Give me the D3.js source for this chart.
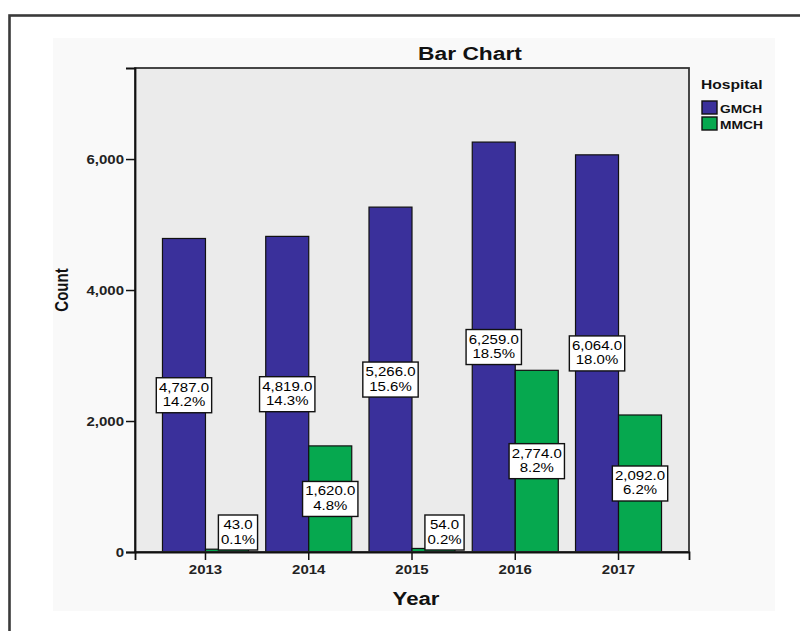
<!DOCTYPE html>
<html>
<head>
<meta charset="utf-8">
<script src="https://cdn.jsdelivr.net/npm/d3@7"></script>
<style>
  html, body { margin: 0; padding: 0; background: #ffffff; }
  svg { display: block; font-family: "Liberation Sans", Arial, sans-serif; }
</style>
</head>
<body>
<svg id="chart" width="800" height="631"></svg>
<script>
// Admissions per year for the two hospitals
const years = ["2013", "2014", "2015", "2016", "2017"];
const hospitals = ["GMCH", "MMCH"];
const gmchCounts = [4787, 4819, 5266, 6259, 6064];
const mmchCounts = [43, 1620, 54, 2774, 2092];
const gmchPercents = ["14.2%", "14.3%", "15.6%", "18.5%", "18.0%"];
const mmchPercents = ["0.1%", "4.8%", "0.2%", "8.2%", "6.2%"];
const yTicks = [0, 2000, 4000, 6000];

const colors = { GMCH: "#3a309b", MMCH: "#06a84f" };
const SX = 1.2; // horizontal text stretch used throughout the chart

const svg = d3.select("#chart");

// page frame and chart background
svg.append("rect").attr("x", 9.5).attr("y", 15.5).attr("width", 900).attr("height", 700)
  .attr("fill", "#ffffff").attr("stroke", "#3a3a3a").attr("stroke-width", 2.6);
svg.append("rect").attr("x", 53).attr("y", 38).attr("width", 722).attr("height", 573)
  .attr("fill", "#f9f9f9");

const plot = { left: 135, right: 689, top: 68, bottom: 552 };

const x = d3.scaleBand().domain(years).range([plot.left, plot.right])
  .paddingInner(0.167).paddingOuter(0.266);
const xs = d3.scaleBand().domain(hospitals).range([0, x.bandwidth()]);
const y = d3.scaleLinear().domain([0, 7390]).range([plot.bottom, plot.top]);

// stretched text helper
function stext(parent, px, py, str, o) {
  const g = parent.append("g")
    .attr("transform", `translate(${px},${py}) scale(${SX},1)` + (o.rotate ? ` rotate(${o.rotate})` : ""));
  return g.append("text").text(str)
    .attr("text-anchor", o.anchor || "middle")
    .attr("font-size", o.size)
    .attr("font-weight", o.weight || "normal")
    .attr("fill", o.fill || "#111");
}

// plot background
svg.append("rect").attr("x", plot.left).attr("y", plot.top)
  .attr("width", plot.right - plot.left).attr("height", plot.bottom - plot.top)
  .attr("fill", "#ebebeb");

// bars
const rows = years.map((yr, i) => ({
  year: yr,
  items: [
    { key: "GMCH", value: gmchCounts[i], pct: gmchPercents[i] },
    { key: "MMCH", value: mmchCounts[i], pct: mmchPercents[i] }
  ]
}));

const groups = svg.append("g").selectAll("g").data(rows).join("g")
  .attr("transform", d => `translate(${x(d.year)},0)`);

groups.selectAll("rect").data(d => d.items).join("rect")
  .attr("x", d => xs(d.key))
  .attr("y", d => y(d.value))
  .attr("width", xs.bandwidth())
  .attr("height", d => y(0) - y(d.value))
  .attr("fill", d => colors[d.key])
  .attr("stroke", "#111")
  .attr("stroke-width", 1.2);

// plot frame
svg.append("rect").attr("x", plot.left).attr("y", plot.top)
  .attr("width", plot.right - plot.left).attr("height", plot.bottom - plot.top)
  .attr("fill", "none").attr("stroke", "#333").attr("stroke-width", 1.8);

// axes
const yAxis = svg.append("g").attr("transform", `translate(${plot.left},0)`)
  .call(d3.axisLeft(y).tickValues(yTicks).tickSize(9).tickPadding(2).tickFormat(d3.format(",")));
const xAxis = svg.append("g").attr("transform", `translate(0,${plot.bottom})`)
  .call(d3.axisBottom(x).tickSize(8).tickPadding(4));

[yAxis, xAxis].forEach(a => {
  a.select(".domain").attr("stroke", "#111").attr("stroke-width", 1.8);
  a.selectAll(".tick line").attr("stroke", "#111").attr("stroke-width", 1.5);
});
yAxis.selectAll(".tick text")
  .attr("font-family", "Liberation Sans, Arial, sans-serif")
  .attr("font-size", 12.5).attr("font-weight", "bold").attr("fill", "#222")
  .attr("x", -11 / SX).attr("transform", `scale(${SX},1)`);
xAxis.selectAll(".tick text")
  .attr("font-family", "Liberation Sans, Arial, sans-serif")
  .attr("font-size", 12.5).attr("font-weight", "bold").attr("fill", "#222")
  .attr("dy", 0).attr("y", 22).attr("transform", `scale(${SX},1)`);

// value labels
const labelLayer = svg.append("g");
rows.forEach(r => {
  r.items.forEach(it => {
    const cx0 = x(r.year) + xs(it.key) + xs.bandwidth() / 2;
    const top = y(it.value), bottom = y(0);
    let cy = (top + bottom) / 2;
    let cx = cx0;
    const halfH = 17.5;
    if (bottom - cy < halfH + 2) { // short bar: lift the label above the axis
      cy = bottom - halfH - 2;
      cx = cx0 + 11;
    }
    const g = labelLayer.append("g");
    const box = g.append("rect").attr("fill", "#fff").attr("stroke", "#111").attr("stroke-width", 1.4);
    const t1 = stext(g, cx, cy - 3.5, d3.format(",.1f")(it.value), { size: 12.5, fill: "#000" });
    const t2 = stext(g, cx, cy + 11, it.pct, { size: 12.5, fill: "#000" });
    const w = Math.max(t1.node().getBBox().width, t2.node().getBBox().width) * SX + 5;
    box.attr("x", cx - w / 2).attr("y", cy - halfH).attr("width", w).attr("height", halfH * 2);
  });
});

// titles
stext(svg, 470, 60, "Bar Chart", { size: 19, weight: "bold" });
stext(svg, 416, 605, "Year", { size: 18.5, weight: "bold" });
stext(svg, 68, 290, "Count", { size: 15, weight: "bold", rotate: -90 });

// legend
stext(svg, 701, 89, "Hospital", { size: 13, weight: "bold", anchor: "start" });
hospitals.forEach((h, i) => {
  const yy = 101 + i * 16;
  svg.append("rect").attr("x", 702).attr("y", yy).attr("width", 15).attr("height", 13)
    .attr("fill", colors[h]).attr("stroke", "#111").attr("stroke-width", 1.4);
  stext(svg, 720, yy + 11.5, h, { size: 11.5, weight: "bold", anchor: "start" });
});
</script>
</body>
</html>
